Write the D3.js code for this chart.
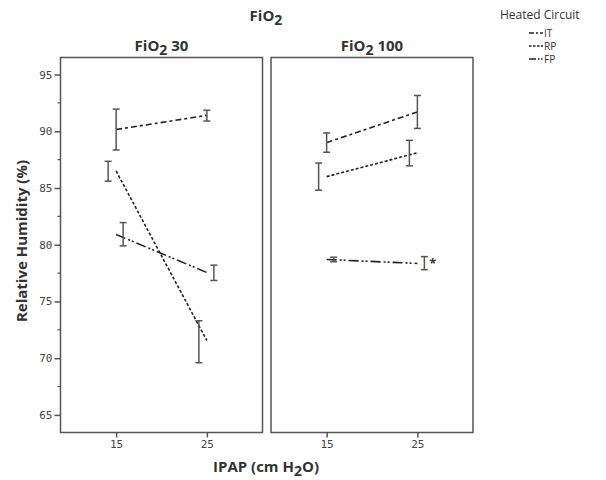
<!DOCTYPE html>
<html>
<head>
<meta charset="utf-8">
<script src="https://cdn.jsdelivr.net/npm/d3@7.9.0/dist/d3.min.js"></script>
<style>
  body { margin: 0; background: #fff; }
  svg text { font-family: "Open Sans", "DejaVu Sans", sans-serif; fill: #333; }
</style>
</head>
<body>
<svg id="chart" width="606" height="480"></svg>
<script>
// --- data ---
const ipap = [15, 25];
const circuits = ['IT', 'RP', 'FP'];
const panelLevels = ['30', '100'];
const yTicks = [65, 70, 75, 80, 85, 90, 95];

// means / lower / upper per circuit (rows: IT, RP, FP; cols: IPAP 15, 25)
const mean30 = [[90.15, 91.4], [86.5, 71.55], [80.9, 77.55]];
const lo30 = [[88.35, 90.9], [85.6, 69.6], [79.9, 76.85]];
const hi30 = [[91.95, 91.85], [87.35, 73.3], [81.95, 78.2]];
const mean100 = [[89.0, 91.7], [86.0, 88.1], [78.7, 78.35]];
const lo100 = [[88.15, 90.25], [84.8, 86.95], [78.5, 77.8]];
const hi100 = [[89.85, 93.15], [87.2, 89.2], [78.9, 78.95]];

const panelData = [
  { level: panelLevels[0], mean: mean30, lo: lo30, hi: hi30, star: false },
  { level: panelLevels[1], mean: mean100, lo: lo100, hi: hi100, star: true },
];

// styles
const dashes = { IT: '6,3,3,3', RP: '3,2', FP: '10,3,2,2,2,3' };
const dodge = { IT: 0, RP: -8, FP: 7 };

const svg = d3.select('#chart');
const plotTop = 57.5, plotBottom = 432.5, panelW = 202;
const panelX = [60.5, 271];

const y = d3.scaleLinear().domain([63.45, 96.5]).range([plotBottom, plotTop]);

function fio2Label(sel, x, yPos, suffix, size) {
  const t = sel.append('text')
    .attr('x', x).attr('y', yPos)
    .attr('text-anchor', 'middle')
    .style('font-size', size + 'px')
    .style('font-weight', 'bold');
  t.append('tspan').text('FiO');
  t.append('tspan').attr('dy', 4).style('font-size', (size - 1) + 'px').text('2');
  if (suffix) t.append('tspan').attr('dy', -4).text(' ' + suffix);
  return t;
}

// overall title
fio2Label(svg, 266, 21, '', 15);

panelData.forEach((p, i) => {
  const x0 = panelX[i];
  const x = d3.scaleLinear().domain([8.87, 31.13]).range([x0, x0 + panelW]);
  const g = svg.append('g');

  // frame
  g.append('rect')
    .attr('x', x0).attr('y', plotTop)
    .attr('width', panelW).attr('height', plotBottom - plotTop)
    .attr('fill', 'none').attr('stroke', '#555').attr('stroke-width', 1.5);

  // panel title
  fio2Label(g, x0 + panelW / 2, 51, p.level, 15);

  // x axis ticks
  const xa = g.append('g').attr('transform', `translate(0,${plotBottom})`)
    .call(d3.axisBottom(x).tickValues(ipap).tickSize(5).tickPadding(3));
  xa.select('.domain').remove();
  xa.selectAll('line').attr('stroke', '#555').attr('stroke-width', 1.5);
  xa.selectAll('text').style('font-size', '11px').style('fill', '#444')
    .style('font-family', '"DejaVu Sans Mono", monospace');

  // series lines and error bars
  circuits.forEach((c, s) => {
    const pts = ipap.map((v, k) => ({ x: v, m: p.mean[s][k], lo: p.lo[s][k], hi: p.hi[s][k] }));
    g.append('path')
      .datum(pts)
      .attr('d', d3.line().x(d => x(d.x)).y(d => y(d.m)))
      .attr('fill', 'none').attr('stroke', '#222').attr('stroke-width', 1.6)
      .attr('stroke-dasharray', dashes[c]);

    const eb = g.selectAll(null).data(pts).enter().append('g')
      .attr('stroke', '#555').attr('stroke-width', 1.5);
    eb.append('line')
      .attr('x1', d => x(d.x) + dodge[c]).attr('x2', d => x(d.x) + dodge[c])
      .attr('y1', d => y(d.lo)).attr('y2', d => y(d.hi));
    eb.append('line')
      .attr('x1', d => x(d.x) + dodge[c] - 3.5).attr('x2', d => x(d.x) + dodge[c] + 3.5)
      .attr('y1', d => y(d.lo)).attr('y2', d => y(d.lo));
    eb.append('line')
      .attr('x1', d => x(d.x) + dodge[c] - 3.5).attr('x2', d => x(d.x) + dodge[c] + 3.5)
      .attr('y1', d => y(d.hi)).attr('y2', d => y(d.hi));

    if (p.star && c === 'FP') {
      const last = pts[1];
      g.append('text')
        .attr('x', x(last.x) + dodge[c] + 5).attr('y', y(last.m) + 5)
        .style('font-size', '13px').style('font-weight', 'bold').text('*');
    }
  });

  // y axis on first panel
  if (i === 0) {
    const ya = g.append('g').attr('transform', `translate(${x0},0)`)
      .call(d3.axisLeft(y).tickValues(yTicks).tickSize(6).tickPadding(2));
    ya.select('.domain').remove();
    ya.selectAll('line').attr('stroke', '#555').attr('stroke-width', 1.5);
    ya.selectAll('text').style('font-size', '11px').style('fill', '#444')
      .style('font-family', '"DejaVu Sans Mono", monospace');
    const minor = d3.range(67.5, 95, 5);
    g.selectAll(null).data(minor).enter().append('line')
      .attr('x1', x0 - 3).attr('x2', x0)
      .attr('y1', d => y(d)).attr('y2', d => y(d))
      .attr('stroke', '#555').attr('stroke-width', 1.2);
  }
});

// axis titles
svg.append('text')
  .attr('transform', 'translate(27,241) rotate(-90)')
  .attr('text-anchor', 'middle')
  .style('font-size', '15px').style('font-weight', 'bold')
  .text('Relative Humidity (%)');

const xt = svg.append('text')
  .attr('x', 266).attr('y', 472)
  .attr('text-anchor', 'middle')
  .style('font-size', '15px').style('font-weight', 'bold');
xt.append('tspan').text('IPAP (cm H');
xt.append('tspan').attr('dy', 4).style('font-size', '14px').text('2');
xt.append('tspan').attr('dy', -4).text('O)');

// legend
const legend = svg.append('g').attr('transform', 'translate(500,0)');
legend.append('text').attr('x', 0).attr('y', 19)
  .style('font-size', '12px').text('Heated Circuit');
circuits.forEach((c, s) => {
  const ly = 33 + s * 13;
  legend.append('line')
    .attr('x1', 29).attr('x2', 43).attr('y1', ly).attr('y2', ly)
    .attr('stroke', '#222').attr('stroke-width', 1.5)
    .attr('stroke-dasharray', c === 'RP' ? '2.5,1.5' : c === 'IT' ? '5,2,2,2' : '7,2,1.5,1.5,1.5,2');
  legend.append('text').attr('x', 44).attr('y', ly + 4)
    .style('font-size', '10px').text(c);
});
</script>
</body>
</html>
